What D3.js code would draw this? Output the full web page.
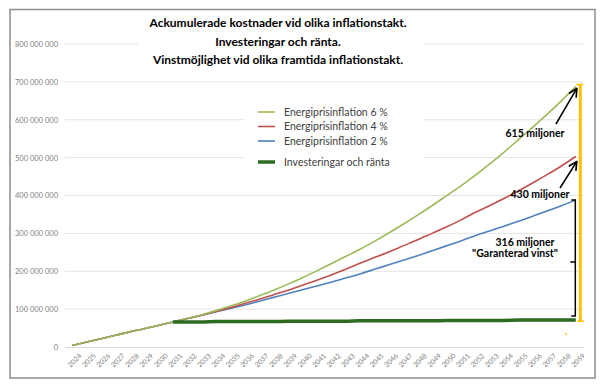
<!DOCTYPE html>
<html>
<head>
<meta charset="utf-8">
<script src="https://cdn.jsdelivr.net/npm/d3@7"></script>
<style>
  body { margin: 0; background: #fff; }
  svg { display: block; font-family: Lato, "Open Sans", sans-serif; }
</style>
</head>
<body>
<div id="chart"></div>
<script>
// data (miljoner kr)
const years = d3.range(2024, 2060);
const infl6 = [4, 13, 22, 31, 40, 48, 57, 66, 75, 85, 96, 108, 121, 135, 150, 166, 183, 201, 220, 239, 258,
  279, 301, 324, 348, 373, 399, 425, 453, 483, 514, 547, 580, 614, 650, 688];
const infl4 = [4, 13, 22, 31, 40, 48, 57, 66, 75, 84, 94, 104, 115, 126, 138, 150, 163, 176, 190, 205, 221,
  236, 251, 267, 283, 300, 317, 335, 355, 373, 392, 412, 433, 455, 478, 503];
const infl2 = [4, 13, 22, 31, 40, 48, 57, 66, 75, 84, 93, 102, 111, 121, 131, 141, 151, 161, 171, 182, 193,
  205, 217, 229, 241, 254, 267, 280, 294, 306, 319, 332, 345, 359, 373, 388];
const invest = [null, null, null, null, null, null, null, 66, 66, 66, 67, 67, 67, 67, 67, 68, 68, 68, 68, 68,
  69, 69, 69, 69, 69, 69, 70, 70, 70, 70, 70, 71, 71, 71, 71, 71];
const yTicks = [0, 100e6, 200e6, 300e6, 400e6, 500e6, 600e6, 700e6, 800e6];
const titleLines = ["Ackumulerade kostnader vid olika inflationstakt.",
  "Investeringar och ränta.", "Vinstmöjlighet vid olika framtida inflationstakt."];
const seriesNames = ["Energiprisinflation 6 %", "Energiprisinflation 4 %", "Energiprisinflation 2 %", "Investeringar och ränta"];
const seriesColors = ["#9bbb59", "#c0504d", "#4f81bd", "#2e6b22"];

const W = 604, H = 387;
const svg = d3.select("#chart").append("svg").attr("width", W).attr("height", H);

// outer frame
svg.append("rect").attr("x", 10).attr("y", 9.5).attr("width", 585).attr("height", 368.5)
  .attr("fill", "#fff").attr("stroke", "#8c8c8c").attr("stroke-width", 1.5);

const x = d3.scalePoint().domain(years).range([65, 583]).padding(0.5);
const y = d3.scaleLinear().domain([0, 800e6]).range([347, 44]);

const sv = d3.formatLocale({ decimal: ",", thousands: " ", grouping: [3], currency: ["", ""] });
const fmt = sv.format(",");

// gridlines
svg.append("g").selectAll("line").data(yTicks.slice(1)).join("line")
  .attr("x1", 65).attr("x2", 583)
  .attr("y1", d => y(d)).attr("y2", d => y(d))
  .attr("stroke", "#e4e4e4").attr("stroke-width", 1);

// y axis
const yAxis = svg.append("g").attr("transform", "translate(60,0)")
  .call(d3.axisLeft(y).tickValues(yTicks).tickFormat(fmt).tickSize(0).tickPadding(2));
yAxis.select(".domain").remove();
yAxis.selectAll("text").attr("fill", "#7f7f7f").style("font-size", "7.5px").style("font-family", "Lato");

// x axis
const xAxis = svg.append("g").attr("transform", "translate(0,347)")
  .call(d3.axisBottom(x).tickSize(0).tickPadding(4));
xAxis.select(".domain").attr("stroke", "#d9d9d9");
xAxis.selectAll("text")
  .attr("fill", "#7f7f7f").style("font-size", "7px").style("font-family", "Lato")
  .attr("text-anchor", "end")
  .attr("transform", "translate(3,3) rotate(-45)");

// white boxes of title and legend
svg.append("rect").attr("x", 138).attr("y", 11).attr("width", 287).attr("height", 60).attr("fill", "#fff");
svg.append("rect").attr("x", 245).attr("y", 96).attr("width", 178).attr("height", 82).attr("fill", "#fff");

// title
svg.append("g").selectAll("text").data(titleLines).join("text")
  .attr("x", 278).attr("y", (d, i) => 27 + i * 18.5)
  .attr("text-anchor", "middle")
  .style("font-size", "12px").style("font-weight", "bold").attr("fill", "#000")
  .text(d => d);

// lines
const line = d3.line()
  .defined(d => d[1] != null)
  .x(d => x(d[0])).y(d => y(d[1] * 1e6))
  .curve(d3.curveMonotoneX);

const series = [infl2, infl4, infl6, invest];
const order = [2, 1, 0, 3];
series.forEach((s, i) => {
  const k = order[i];
  svg.append("path")
    .datum(years.map((yr, j) => [yr, s[j]]))
    .attr("d", line)
    .attr("fill", "none")
    .attr("stroke", seriesColors[k])
    .attr("stroke-width", k == 3 ? 3.5 : 1.6);
});

// legend
const legY = [112, 126.5, 141, 162];
const leg = svg.append("g").selectAll("g").data(seriesNames).join("g")
  .attr("transform", (d, i) => `translate(258,${legY[i]})`);
leg.append("line").attr("x1", 0).attr("x2", 17).attr("y1", 0).attr("y2", 0)
  .attr("stroke", (d, i) => seriesColors[i])
  .attr("stroke-width", (d, i) => i == 3 ? 3.5 : 1.6);
leg.append("text").attr("x", 26).attr("y", 3.5)
  .style("font-size", "10.5px").attr("fill", "#404040")
  .text(d => d);

// annotations
const last = years[years.length - 1];
const xe = x(last);
const ann = svg.append("g");

svg.append("defs").append("marker")
  .attr("id", "arr").attr("viewBox", "0 0 10 10").attr("refX", 9).attr("refY", 5)
  .attr("markerWidth", 7).attr("markerHeight", 7).attr("orient", "auto")
  .append("path").attr("d", "M1,1 L9,5 L1,9").attr("fill", "none").attr("stroke", "#000").attr("stroke-width", 1.6);

// yellow bar
const xY = xe + 4.5;
ann.append("line").attr("x1", xY).attr("x2", xY)
  .attr("y1", y(infl6[35] * 1e6) - 2).attr("y2", y(invest[35] * 1e6) + 2)
  .attr("stroke", "#ffc000").attr("stroke-width", 3);
ann.append("line").attr("x1", xY - 4).attr("x2", xY + 3)
  .attr("y1", y(infl6[35] * 1e6) - 2).attr("y2", y(infl6[35] * 1e6) - 2)
  .attr("stroke", "#ffc000").attr("stroke-width", 1.5);
ann.append("line").attr("x1", xY - 3).attr("x2", xY + 4)
  .attr("y1", y(invest[35] * 1e6) + 1).attr("y2", y(invest[35] * 1e6) + 1)
  .attr("stroke", "#ffc000").attr("stroke-width", 1.5);
ann.append("circle").attr("cx", 566).attr("cy", 334).attr("r", 0.9).attr("fill", "#ffc000");

// black bracket
const xB = xe - 0.5;
const yb1 = y(infl2[35] * 1e6), yb2 = y(invest[35] * 1e6) - 4;
ann.append("path")
  .attr("d", `M${xB - 4},${yb1} H${xB} V${yb2} H${xB - 4} M${xB},${(yb1 + yb2) / 2 + 4} H${xB - 5}`)
  .attr("fill", "none").attr("stroke", "#000").attr("stroke-width", 1.5);

// arrows
ann.append("line").attr("x1", 556).attr("y1", 124).attr("x2", xe + 1).attr("y2", y(infl6[35] * 1e6) + 2)
  .attr("stroke", "#000").attr("stroke-width", 1.5).attr("marker-end", "url(#arr)");
ann.append("line").attr("x1", 560).attr("y1", 188).attr("x2", xe + 1).attr("y2", y(infl4[35] * 1e6) + 5)
  .attr("stroke", "#000").attr("stroke-width", 1.5).attr("marker-end", "url(#arr)");

const annText = [
  { t: "615 miljoner", x: 535, y: 137 },
  { t: "430 miljoner", x: 540, y: 198 },
  { t: "316 miljoner", x: 525, y: 246 },
  { t: "\"Garanterad vinst\"", x: 515, y: 257 }
];
ann.selectAll("text").data(annText).join("text")
  .attr("x", d => d.x).attr("y", d => d.y)
  .attr("text-anchor", "middle")
  .style("font-size", "10.5px").style("font-weight", "bold").attr("fill", "#000")
  .text(d => d.t);
</script>
</body>
</html>
